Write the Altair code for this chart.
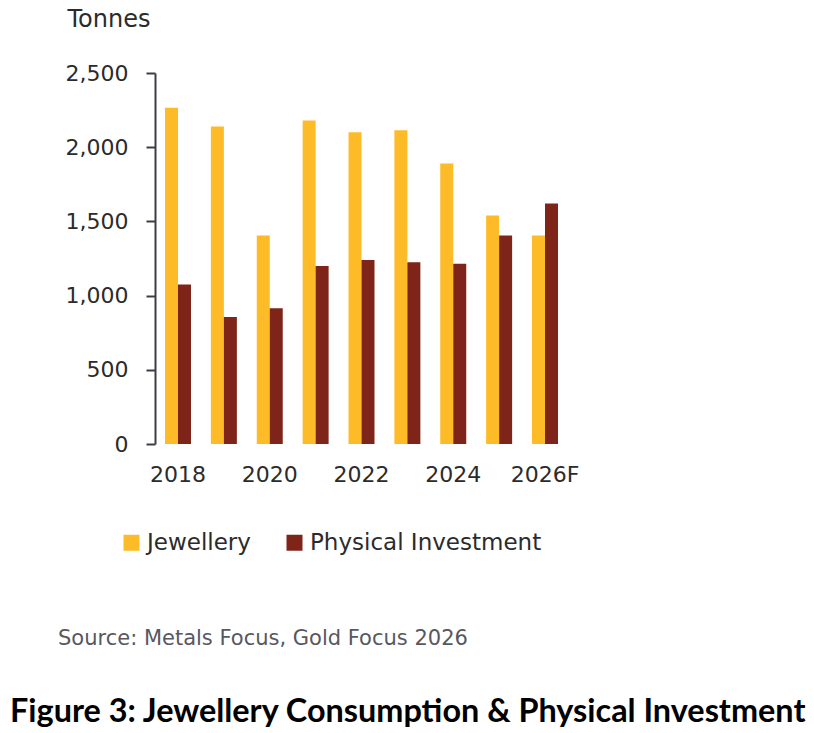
import altair as alt
import pandas as pd

# Annual gold demand, tonnes
years = ["2018", "2019", "2020", "2021", "2022", "2023", "2024", "2025", "2026F"]
jewellery = [2265, 2140, 1405, 2180, 2100, 2115, 1890, 1540, 1405]
physical_investment = [1075, 855, 915, 1200, 1240, 1225, 1215, 1405, 1620]
series = ["Jewellery", "Physical Investment"]
colors = ["#FDBB28", "#7E2418"]

rows = []
for i, y in enumerate(years):
    rows.append({"year": y, "series": series[0], "tonnes": jewellery[i]})
    rows.append({"year": y, "series": series[1], "tonnes": physical_investment[i]})
df = pd.DataFrame(rows)

label_years = ["2018", "2020", "2022", "2024", "2026F"]
label_test = " || ".join([f"datum.value == '{y}'" for y in label_years])

FONT = "DejaVu Sans"

bars = alt.Chart(df).mark_bar().encode(
    x=alt.X(
        "year:N",
        sort=years,
        scale=alt.Scale(paddingInner=0.4335, paddingOuter=0.218),
        axis=alt.Axis(
            title=None,
            domain=False,
            ticks=False,
            labelAngle=0,
            labelFont=FONT,
            labelFontSize=22,
            labelColor="#2b2b2b",
            labelPadding=20,
            labelExpr=f"({label_test}) ? datum.value : ''",
        ),
    ),
    xOffset=alt.XOffset("series:N", sort=series,
                        scale=alt.Scale(paddingInner=0, paddingOuter=0)),
    y=alt.Y(
        "tonnes:Q",
        scale=alt.Scale(domain=[0, 2500], nice=False),
        axis=alt.Axis(
            values=[0, 500, 1000, 1500, 2000, 2500],
            format=",d",
            grid=False,
            domainColor="#3c3c46",
            domainWidth=2,
            tickColor="#3c3c46",
            tickWidth=2,
            tickSize=9,
            labelFont=FONT,
            labelFontSize=22,
            labelColor="#2b2b2b",
            labelPadding=18,
            title="Tonnes",
            titleAngle=0,
            titleAlign="left",
            titleBaseline="alphabetic",
            titleX=-88,
            titleY=-47,
            titleFont=FONT,
            titleFontSize=24,
            titleFontWeight="normal",
            titleColor="#2b2b2b",
        ),
    ),
    color=alt.Color(
        "series:N",
        sort=series,
        scale=alt.Scale(domain=series, range=colors),
        legend=alt.Legend(
            title=None,
            orient="none",
            direction="horizontal",
            legendX=-35,
            legendY=458,
            symbolType="square",
            symbolSize=256,
            symbolStrokeWidth=0,
            symbolOpacity=1,
            labelFont=FONT,
            labelFontSize=23,
            labelColor="#2b2b2b",
            labelOffset=4,
            labelLimit=400,
            columnPadding=32,
            padding=0,
        ),
    ),
)

source_note = alt.Chart(pd.DataFrame({"t": ["Source: Metals Focus, Gold Focus 2026"]})).mark_text(
    align="left", baseline="alphabetic", font=FONT, fontSize=21, color="#58585f"
).encode(x=alt.value(-97), y=alt.value(572), text="t:N")

figure_title = alt.Chart(pd.DataFrame({"t": ["Figure 3: Jewellery Consumption & Physical Investment"]})).mark_text(
    align="left", baseline="alphabetic", font="Lato", fontSize=32.4, fontWeight="bold", color="#000000"
).encode(x=alt.value(-145), y=alt.value(649), text="t:N")

chart = alt.layer(bars, source_note, figure_title).properties(
    width=413,
    height=371,
    autosize=alt.AutoSizeParams(type="none"),
    padding={"left": 155, "top": 73, "right": 246, "bottom": 289},
    background="white",
).configure_view(stroke=None)

chart.save("out.html", embed_options={"renderer": "svg", "actions": False})
